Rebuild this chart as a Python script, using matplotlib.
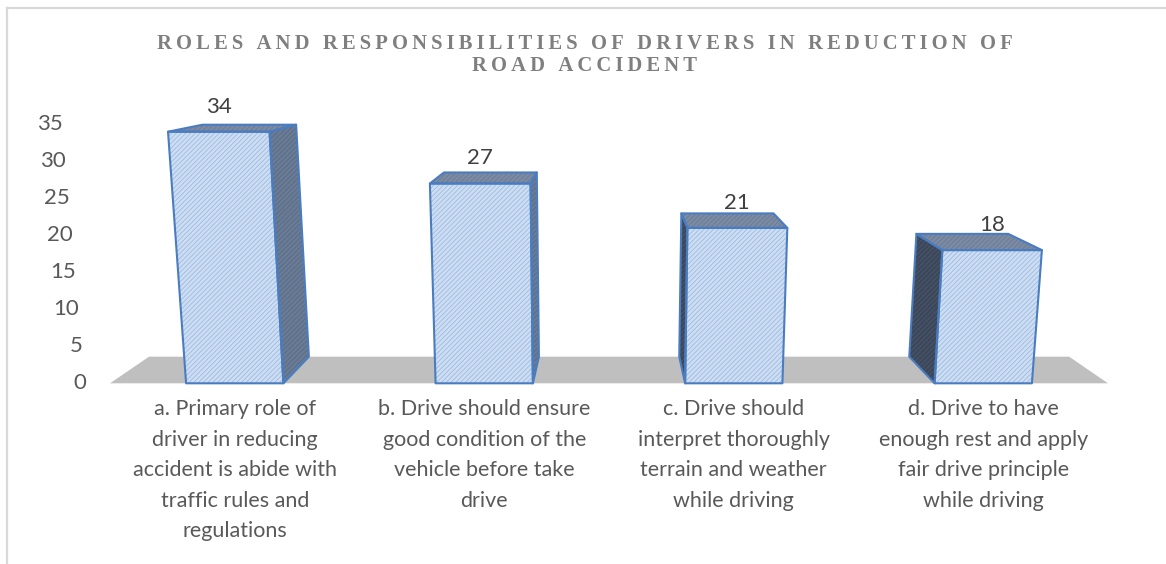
import matplotlib.pyplot as plt
from matplotlib.patches import Polygon
from matplotlib.lines import Line2D

# chart data
categories = [
    "a. Primary role of\ndriver in reducing\naccident is abide with\ntraffic rules and\nregulations",
    "b. Drive should ensure\ngood condition of the\nvehicle before take\ndrive",
    "c. Drive should\ninterpret thoroughly\nterrain and weather\nwhile driving",
    "d. Drive to have\nenough rest and apply\nfair drive principle\nwhile driving",
]
values = [34, 27, 21, 18]
y_ticks = [0, 5, 10, 15, 20, 25, 30, 35]
title_lines = ["ROLES AND RESPONSIBILITIES OF DRIVERS IN REDUCTION OF", "ROAD ACCIDENT"]

W, H = 1166, 564
plt.rcParams['hatch.linewidth'] = 0.6

# 3d look: floor front edge, value scale and perspective settings (pixels)
floor_left, floor_right = 110, 1108
base_y = 383.3
px_per_unit = 7.4
flare, flare_x0 = 1.736e-4, 600
vp_x, vp_y = 610, 42
depth_scale = 0.922
bar_frac = 0.39


def project(X, v, z):
    # X: position on the front floor edge, v: value, z: depth 0 (front) .. 1 (back)
    h = v * px_per_unit
    y = base_y - h
    x = flare_x0 + (X - flare_x0) * (1 + flare * h)
    s = 1 - (1 - depth_scale) * z
    return vp_x + (x - vp_x) * s, vp_y + (y - vp_y) * s


def face(ax, pts, fc, hc, ec='#4a7cc0', lw=1.5):
    ax.add_patch(Polygon(pts, closed=True, facecolor=fc, edgecolor='none', zorder=2))
    ax.add_patch(Polygon(pts, closed=True, facecolor='none', edgecolor=hc,
                         hatch='///////', linewidth=0, zorder=2))
    if ec is not None:
        ax.add_patch(Polygon(pts, closed=True, facecolor='none', edgecolor=ec,
                             linewidth=lw, joinstyle='round', zorder=3))


fig = plt.figure(figsize=(W / 100, H / 100), dpi=100)
ax = fig.add_axes([0, 0, 1, 1])
ax.set_xlim(0, W)
ax.set_ylim(H, 0)
ax.axis('off')

# chart border
fig.add_artist(Line2D([7 / W, 1], [1 - 8 / H, 1 - 8 / H], color='#d9d9d9', lw=1.6))
fig.add_artist(Line2D([7 / W, 7 / W], [0, 1 - 8 / H], color='#d9d9d9', lw=1.6))

# gray floor
floor = [project(floor_left, 0, 0), project(floor_right, 0, 0),
         project(floor_right, 0, 1), project(floor_left, 0, 1)]
ax.add_patch(Polygon(floor, closed=True, facecolor='#bfbfbf', edgecolor='none', zorder=1))

slot = (floor_right - floor_left) / len(values)
for i, (v, cat) in enumerate(zip(values, categories)):
    cx = floor_left + slot * (i + 0.5)
    L, R = cx - slot * bar_frac / 2, cx + slot * bar_frac / 2
    # side face facing the viewer
    if R < vp_x:
        side = [project(R, 0, 0), project(R, v, 0), project(R, v, 1), project(R, 0, 1)]
        face(ax, side, '#6a7c95', '#586a84')
    elif L > vp_x:
        side = [project(L, 0, 0), project(L, v, 0), project(L, v, 1), project(L, 0, 1)]
        face(ax, side, '#3c475a', '#4a586f')
    top = [project(L, v, 0), project(R, v, 0), project(R, v, 1), project(L, v, 1)]
    face(ax, top, '#7c8ba3', '#6b7b95')
    front = [project(L, 0, 0), project(R, 0, 0), project(R, v, 0), project(L, v, 0)]
    face(ax, front, '#cddef3', '#9dbae0')

    tx, ty = project(cx, v, 0)
    ax.text(tx, ty - 25, str(v), ha='center', va='center', fontsize=16,
            family='Lato', color='#404040')
    ax.text(cx, 399, cat, ha='center', va='top', fontsize=15.5, family='Lato',
            color='#595959', linespacing=1.66)

# value axis labels, leaning with the perspective
for t in y_ticks:
    lx, ly = project(floor_left - 24, t, 0)
    ax.text(lx, ly, str(t), ha='right', va='center', fontsize=16,
            family='Lato', color='#595959')

# letter-spaced title
for k, line in enumerate(title_lines):
    spaced = '\u2009'.join(line)
    ax.text(585, 44 + 22 * k, spaced, ha='center', va='center', fontsize=14.9,
            fontweight='bold', family=['Liberation Serif', 'DejaVu Serif'],
            color='#7f7f7f')

fig.savefig('out.png', dpi=100)
